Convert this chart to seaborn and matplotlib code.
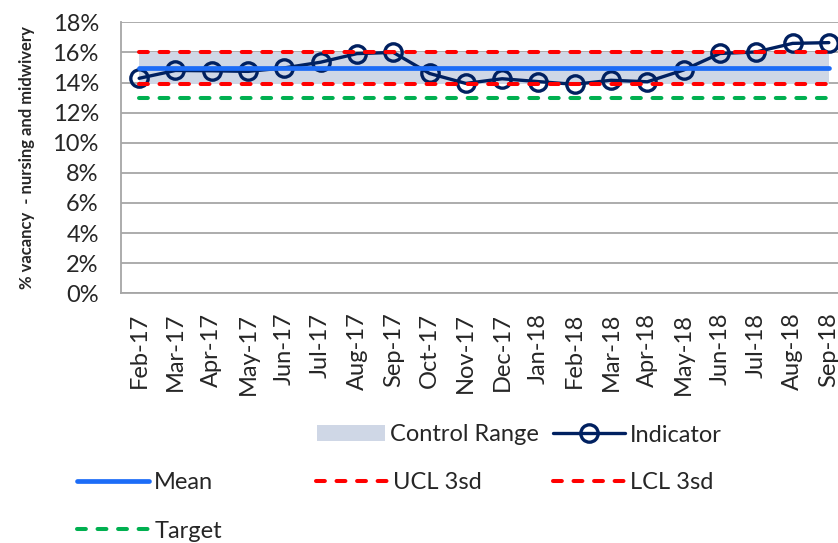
import matplotlib
matplotlib.use("Agg")
import matplotlib.pyplot as plt
import seaborn as sns
import pandas as pd
import numpy as np
from matplotlib.lines import Line2D
from matplotlib.patches import Patch
from matplotlib.ticker import FuncFormatter, FixedLocator

# ---------------- data ----------------
months = ["Feb-17", "Mar-17", "Apr-17", "May-17", "Jun-17", "Jul-17", "Aug-17",
          "Sep-17", "Oct-17", "Nov-17", "Dec-17", "Jan-18", "Feb-18", "Mar-18",
          "Apr-18", "May-18", "Jun-18", "Jul-18", "Aug-18", "Sep-18"]
indicator = [14.28, 14.80, 14.78, 14.74, 14.97, 15.35, 15.92, 16.00, 14.60, 13.94,
             14.25, 14.06, 13.88, 14.15, 14.05, 14.83, 15.93, 16.03, 16.60, 16.65]
mean_value = 14.95
ucl_value = 16.00
lcl_value = 13.90
target_value = 13.00
y_ticks = [0, 2, 4, 6, 8, 10, 12, 14, 16, 18]

n = len(months)
df = pd.DataFrame({
    "pos": np.arange(n),
    "month": months,
    "Indicator": indicator,
    "Mean": [mean_value] * n,
    "UCL 3sd": [ucl_value] * n,
    "LCL 3sd": [lcl_value] * n,
    "Target": [target_value] * n,
})

# ---------------- style ----------------
sns.set_style("white")
plt.rcParams["font.family"] = ["Lato", "DejaVu Sans"]
FS = 17

NAVY = "#002060"
BLUE = "#1C6CF7"
RED = "#FF0000"
GREEN = "#00B050"
SHADE = "#CFD7E6"
GRID = "#A6A6A6"

fig = plt.figure(figsize=(8.38, 5.43), dpi=100)
ax = fig.add_axes([121 / 838, 1 - 293.3 / 543, 726 / 838, 271 / 543])

# control range
ax.fill_between(df["pos"], df["LCL 3sd"], df["UCL 3sd"], color=SHADE, lw=0, zorder=1)

# indicator
sns.lineplot(data=df, x="pos", y="Indicator", ax=ax, color=NAVY, lw=2.4,
             marker="o", markersize=12.5, markerfacecolor="none",
             markeredgecolor=NAVY, markeredgewidth=2.4, errorbar=None, zorder=3)
# mean
sns.lineplot(data=df, x="pos", y="Mean", ax=ax, color=BLUE, lw=3.4,
             solid_capstyle="round", errorbar=None, zorder=4)
dash = (0, (2.2, 2.9))
for col, c in [("UCL 3sd", RED), ("LCL 3sd", RED), ("Target", GREEN)]:
    sns.lineplot(data=df, x="pos", y=col, ax=ax, color=c, lw=2.9,
                 linestyle=dash, dash_capstyle="round", errorbar=None, zorder=5)

# axes
ax.set_xlim(-0.5, n - 0.5)
ax.set_ylim(0, 18)
ax.set_axisbelow(True)
ax.yaxis.set_major_locator(FixedLocator(y_ticks))
ax.yaxis.set_major_formatter(FuncFormatter(lambda v, p: f"{v:.0f}%"))
ax.grid(axis="y", color=GRID, lw=1.3)
ax.grid(axis="x", visible=False)

ax.set_xticks(np.arange(n))
ax.set_xticklabels(months, rotation=90, fontsize=FS)
ax.set_xticks(np.arange(n + 1) - 0.5, minor=True)
ax.tick_params(axis="x", which="major", length=0, pad=14)
ax.tick_params(axis="x", which="minor", length=5, width=1.3, color=GRID, direction="out")
ax.tick_params(axis="y", which="major", length=5, width=1.3, color=GRID,
               direction="out", labelsize=FS, pad=11)

for s in ["top", "right"]:
    ax.spines[s].set_visible(False)
for s in ["left", "bottom"]:
    ax.spines[s].set_color(GRID)
    ax.spines[s].set_linewidth(1.3)

ax.set_xlabel("")
ax.set_ylabel("% vacancy  - nursing and midwivery", fontsize=12, fontweight="bold")
ax.yaxis.set_label_coords(-0.1185, 0.5)

# ---------------- legend ----------------
fspx = FS * 100 / 72
hl = 72 / fspx
entries = [
    (Patch(facecolor=SHADE, edgecolor="none"), "Control Range", 317, 434.5, 68 / fspx),
    (Line2D([], [], color=NAVY, lw=2.4, marker="o", markersize=12.5, markerfacecolor="none",
            markeredgecolor=NAVY, markeredgewidth=2.4), "Indicator", 553, 435, hl),
    (Line2D([], [], color=BLUE, lw=3.4, solid_capstyle="round"), "Mean", 77, 482.7, hl),
    (Line2D([], [], color=RED, lw=2.9, linestyle=dash, dash_capstyle="round"), "UCL 3sd", 316, 482.7, hl),
    (Line2D([], [], color=RED, lw=2.9, linestyle=dash, dash_capstyle="round"), "LCL 3sd", 553, 482.7, hl),
    (Line2D([], [], color=GREEN, lw=2.9, linestyle=dash, dash_capstyle="round"), "Target", 77, 531, hl),
]
for h, lab, xp, yp, hlen in entries:
    fig.legend(handles=[h], labels=[lab], loc="center left",
               bbox_to_anchor=(xp / 838, 1 - yp / 543), frameon=False,
               fontsize=FS, handlelength=hlen, handletextpad=0.22,
               borderpad=0, borderaxespad=0, handleheight=0.64)

fig.savefig("out.png", dpi=100)
